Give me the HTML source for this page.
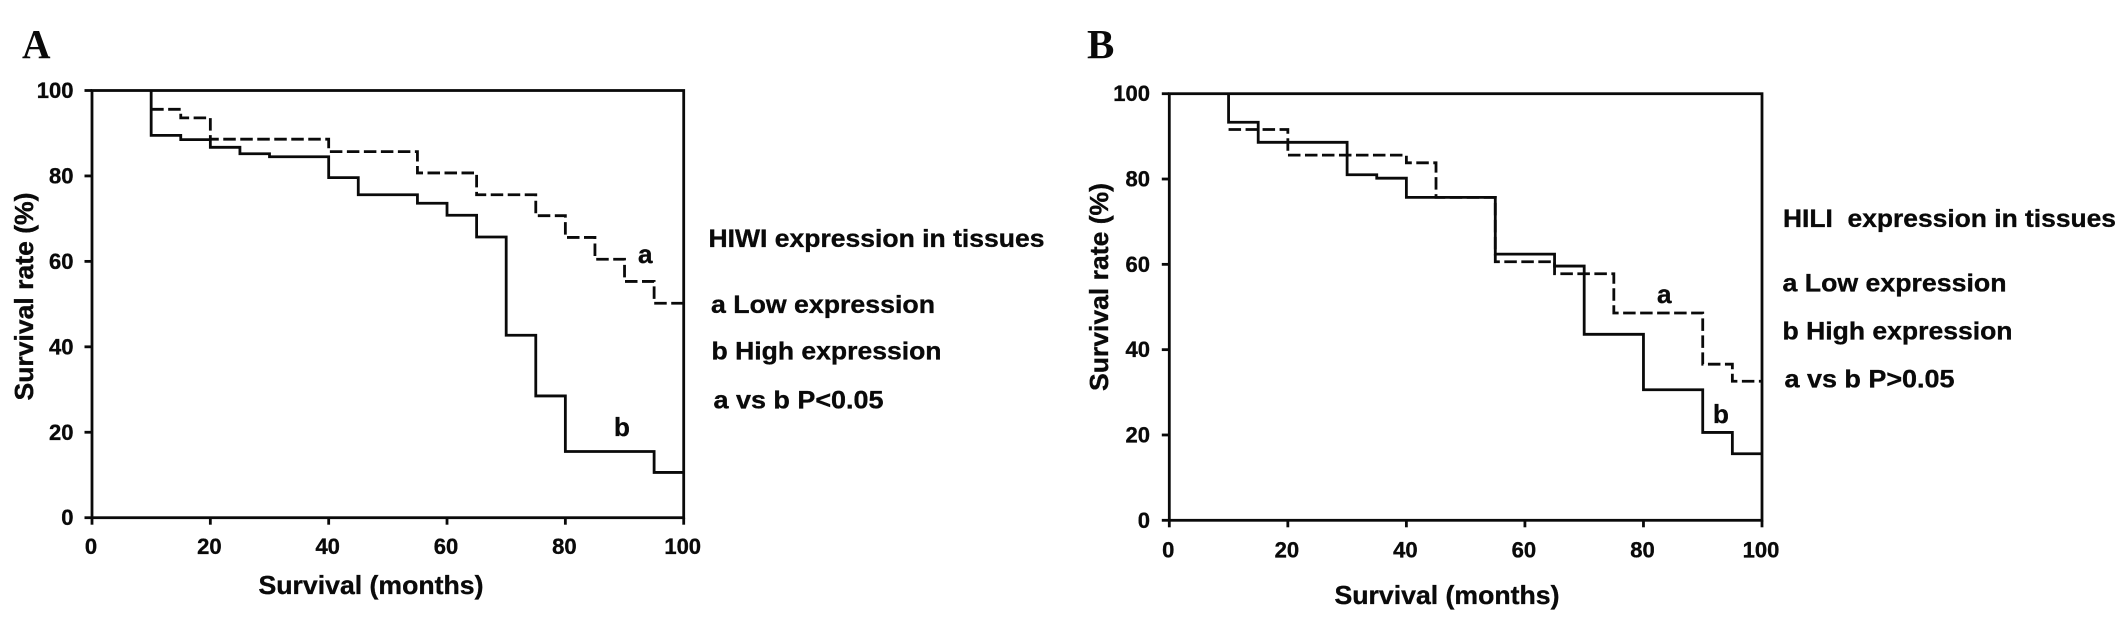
<!DOCTYPE html>
<html lang="en">
<head>
<meta charset="utf-8">
<title>Survival curves by HIWI and HILI expression</title>
<style>
  html, body { margin: 0; padding: 0; background: #fff; width: 2126px; height: 617px; overflow: hidden; }
  svg { display: block; filter: blur(0.35px); }
  text { font-family: "Liberation Sans", Arial, sans-serif; font-weight: 700; fill: #0a0a0a; stroke: #0a0a0a; stroke-width: 0.35px; }
  .panel-letter { font-family: "Liberation Serif", serif; font-size: 41px; stroke-width: 0; }
  .tick { font-size: 22px; }
  .title { font-size: 26px; }
  .legend { font-size: 25px; }
  .curve-label { font-size: 26px; }
</style>
</head>
<body>
<svg id="figure" xmlns="http://www.w3.org/2000/svg" width="2126" height="617" viewBox="0 0 2126 617">
  <rect x="0" y="0" width="2126" height="617" fill="#fff"/>

  <text class="panel-letter" x="22" y="58" textLength="28.5" lengthAdjust="spacingAndGlyphs">A</text>
  <text class="panel-letter" x="1087" y="58">B</text>

  <g id="panel-a"></g>
  <g id="panel-b"></g>

  <text class="title" x="258.5" y="594" textLength="225" lengthAdjust="spacingAndGlyphs">Survival (months)</text>
  <text class="title" transform="translate(33 400.5) rotate(-90)" x="0" y="0" textLength="208" lengthAdjust="spacingAndGlyphs">Survival rate (%)</text>
  <text class="title" x="1334.5" y="604" textLength="225" lengthAdjust="spacingAndGlyphs">Survival (months)</text>
  <text class="title" transform="translate(1108 391) rotate(-90)" x="0" y="0" textLength="208" lengthAdjust="spacingAndGlyphs">Survival rate (%)</text>

  <text class="curve-label" x="638" y="263">a</text>
  <text class="curve-label" x="614" y="436">b</text>
  <text class="curve-label" x="1657" y="303">a</text>
  <text class="curve-label" x="1713" y="423">b</text>

  <g>
    <text class="legend" x="708.5" y="247" textLength="336" lengthAdjust="spacingAndGlyphs">HIWI expression in tissues</text>
    <text class="legend" x="711" y="313" textLength="224" lengthAdjust="spacingAndGlyphs">a Low expression</text>
    <text class="legend" x="711.5" y="359.5" textLength="230" lengthAdjust="spacingAndGlyphs">b High expression</text>
    <text class="legend" x="713.5" y="408.5" textLength="170" lengthAdjust="spacingAndGlyphs">a vs b P&lt;0.05</text>
  </g>
  <g>
    <text class="legend" x="1783" y="227" textLength="333" lengthAdjust="spacingAndGlyphs" xml:space="preserve">HILI  expression in tissues</text>
    <text class="legend" x="1782.5" y="291.5" textLength="224" lengthAdjust="spacingAndGlyphs">a Low expression</text>
    <text class="legend" x="1782.5" y="339.5" textLength="230" lengthAdjust="spacingAndGlyphs">b High expression</text>
    <text class="legend" x="1784.5" y="387.5" textLength="170" lengthAdjust="spacingAndGlyphs">a vs b P&gt;0.05</text>
  </g>
</svg>

<script>
// Chart data
var xTickLabels = [0, 20, 40, 60, 80, 100];
var yTickLabels = [0, 20, 40, 60, 80, 100];

var panelALowMonths = [10, 15, 20, 40, 55, 65, 75, 80, 85, 90, 95];
var panelALowSurvival = [95.6, 93.6, 88.6, 85.7, 80.7, 75.6, 70.7, 65.6, 60.5, 55.3, 50.2];
var panelAHighMonths = [10, 15, 20, 25, 30, 40, 45, 55, 60, 65, 70, 75, 80, 95];
var panelAHighSurvival = [89.5, 88.5, 86.7, 85.2, 84.5, 79.6, 75.6, 73.6, 70.8, 65.7, 42.7, 28.5, 15.5, 10.6];

var panelBLowMonths = [10, 20, 40, 45, 55, 65, 75, 90, 95];
var panelBLowSurvival = [91.6, 85.6, 83.8, 75.7, 60.6, 57.8, 48.6, 36.6, 32.6];
var panelBHighMonths = [10, 15, 30, 35, 40, 55, 65, 70, 80, 90, 95];
var panelBHighSurvival = [93.3, 88.6, 81, 80.2, 75.7, 62.4, 59.6, 43.6, 30.6, 20.6, 15.6];

var SVG_NS = 'http://www.w3.org/2000/svg';
var INK = '#0a0a0a';

function makeLine(parent, x1, y1, x2, y2, width) {
  var line = document.createElementNS(SVG_NS, 'line');
  line.setAttribute('x1', x1);
  line.setAttribute('y1', y1);
  line.setAttribute('x2', x2);
  line.setAttribute('y2', y2);
  line.setAttribute('stroke', INK);
  line.setAttribute('stroke-width', width);
  parent.appendChild(line);
  return line;
}

function makeTickText(parent, x, y, anchor, label) {
  var t = document.createElementNS(SVG_NS, 'text');
  t.setAttribute('class', 'tick');
  t.setAttribute('x', x);
  t.setAttribute('y', y);
  t.setAttribute('text-anchor', anchor);
  t.textContent = label;
  parent.appendChild(t);
  return t;
}

function stepPath(months, survival, sx, sy, startLevel) {
  var d = 'M' + sx(months[0]) + ' ' + sy(startLevel);
  for (var i = 0; i < months.length; i++) {
    d += ' V' + sy(survival[i]);
    var next = i + 1 < months.length ? months[i + 1] : 100;
    d += ' H' + sx(next);
  }
  return d;
}

function drawPanel(groupId, box, lowMonths, lowSurvival, highMonths, highSurvival) {
  var g = document.getElementById(groupId);
  var sx = function (v) { return box.left + (box.right - box.left) * v / 100; };
  var sy = function (v) { return box.bottom + (box.top - box.bottom) * v / 100; };

  var frame = document.createElementNS(SVG_NS, 'rect');
  
  
  frame.setAttribute('x', box.left);
  frame.setAttribute('y', box.top);
  frame.setAttribute('width', box.right - box.left);
  frame.setAttribute('height', box.bottom - box.top);
  frame.setAttribute('fill', 'none');
  frame.setAttribute('stroke', INK);
  frame.setAttribute('stroke-width', '2.8');
  g.appendChild(frame);

  xTickLabels.forEach(function (v) {
    var tick = makeLine(g, sx(v), box.bottom, sx(v), box.bottom + 7, 2.8);
    
    
    var label = makeTickText(g, sx(v) - 1, box.xLabelY, 'middle', v);
    
    
  });

  yTickLabels.forEach(function (v) {
    var tick = makeLine(g, box.left - 7.5, sy(v), box.left, sy(v), 2.8);
    
    
    var label = makeTickText(g, box.yLabelRight, sy(v) + 7.5, 'end', v);
    
    
  });

  var low = document.createElementNS(SVG_NS, 'path');
  
  
  low.setAttribute('d', stepPath(lowMonths, lowSurvival, sx, sy, lowSurvival[0]));
  low.setAttribute('fill', 'none');
  low.setAttribute('stroke', INK);
  low.setAttribute('stroke-width', '2.8');
  low.setAttribute('stroke-dasharray', '12.5 4.5');
  g.appendChild(low);

  var high = document.createElementNS(SVG_NS, 'path');
  
  
  high.setAttribute('d', stepPath(highMonths, highSurvival, sx, sy, 100));
  high.setAttribute('fill', 'none');
  high.setAttribute('stroke', INK);
  high.setAttribute('stroke-width', '2.8');
  g.appendChild(high);
}

drawPanel('panel-a',
  { left: 92, right: 683.7, top: 90.5, bottom: 517.7, xLabelY: 554, yLabelRight: 73.5 },
  panelALowMonths, panelALowSurvival, panelAHighMonths, panelAHighSurvival);

drawPanel('panel-b',
  { left: 1169.3, right: 1762, top: 93.7, bottom: 520.3, xLabelY: 557.5, yLabelRight: 1150 },
  panelBLowMonths, panelBLowSurvival, panelBHighMonths, panelBHighSurvival);
</script>
</body>
</html>
